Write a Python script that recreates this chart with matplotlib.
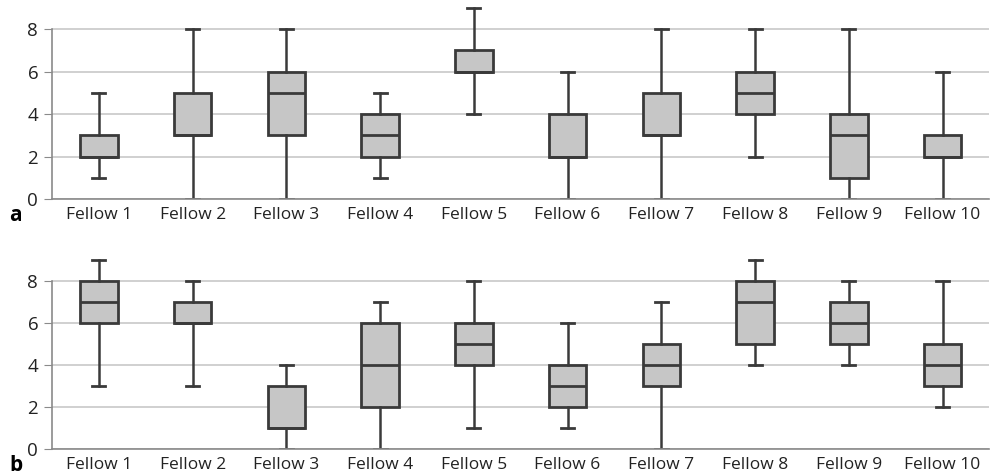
import matplotlib.pyplot as plt

fellows = [f"Fellow {i}" for i in range(1, 11)]

# panel a: whisker low, q1, median, q3, whisker high
a_low = [1, 0, 0, 1, 4, 0, 0, 2, 0, 0]
a_q1 = [2, 3, 3, 2, 6, 2, 3, 4, 1, 2]
a_med = [2, 3, 5, 3, 6, 2, 3, 5, 3, 2]
a_q3 = [3, 5, 6, 4, 7, 4, 5, 6, 4, 3]
a_high = [5, 8, 8, 5, 9, 6, 8, 8, 8, 6]

# panel b
b_low = [3, 3, 0, 0, 1, 1, 0, 4, 4, 2]
b_q1 = [6, 6, 1, 2, 4, 2, 3, 5, 5, 3]
b_med = [7, 6, 1, 4, 5, 3, 4, 7, 6, 4]
b_q3 = [8, 7, 3, 6, 6, 4, 5, 8, 7, 5]
b_high = [9, 8, 4, 7, 8, 6, 7, 9, 8, 8]

plt.rcParams['font.family'] = ['Open Sans', 'DejaVu Sans']

fig = plt.figure(figsize=(9.93, 4.75), dpi=100)
ax_a = fig.add_axes([0.0524, 0.581, 0.944, 0.407])
ax_b = fig.add_axes([0.0524, 0.0547, 0.944, 0.402])

line_c = "#3a3a3a"


def draw_panel(ax, low, q1, med, q3, high, tag):
    stats = []
    for lo, a, m, b, hi, name in zip(low, q1, med, q3, high, fellows):
        stats.append(dict(whislo=lo, q1=a, med=m, q3=b, whishi=hi, label=name, fliers=[]))
    ax.bxp(stats, positions=range(1, 11), widths=0.4, capwidths=0.14,
           patch_artist=True, showfliers=False,
           boxprops=dict(facecolor="#c6c6c6", edgecolor=line_c, linewidth=2),
           medianprops=dict(color=line_c, linewidth=2),
           whiskerprops=dict(color=line_c, linewidth=1.8),
           capprops=dict(color=line_c, linewidth=2))
    ax.set_xlim(0.5, 10.5)
    ax.set_ylim(0, 9.1)
    ax.set_yticks([0, 2, 4, 6, 8])
    ax.yaxis.grid(True, color="#c8c8c8", linewidth=1.2, zorder=0)
    ax.set_axisbelow(True)
    for s in ("top", "right"):
        ax.spines[s].set_visible(False)
    ax.spines["left"].set_bounds(0, 8)
    ax.spines["left"].set_color("#8a8a8a")
    ax.spines["bottom"].set_color("#8a8a8a")
    ax.spines["left"].set_linewidth(1.2)
    ax.spines["bottom"].set_linewidth(1.2)
    ax.tick_params(axis="y", length=6, color="#8a8a8a", labelsize=13.5, pad=4, labelcolor="#222222")
    ax.tick_params(axis="x", length=0, labelsize=12.5, pad=6, labelcolor="#222222")
    ax.text(-0.046, -0.085, tag, transform=ax.transAxes, fontsize=15,
            fontweight="bold", ha="left", va="center")


draw_panel(ax_a, a_low, a_q1, a_med, a_q3, a_high, "a")
draw_panel(ax_b, b_low, b_q1, b_med, b_q3, b_high, "b")

fig.savefig("out.png", dpi=100)
